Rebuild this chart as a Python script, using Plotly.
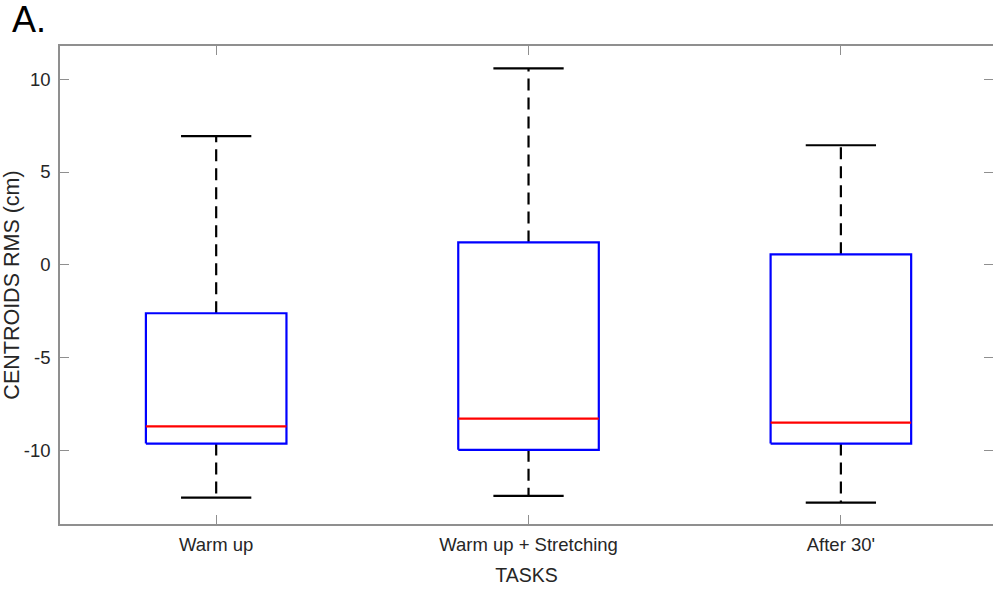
import plotly.graph_objects as go

# Box-plot summary statistics per task (cm)
tasks = ["Warm up", "Warm up + Stretching", "After 30'"]
lower_whisker = [-12.52, -12.43, -12.79]
q1 = [-9.61, -9.95, -9.61]
median = [-8.69, -8.27, -8.49]
q3 = [-2.60, 1.21, 0.57]
upper_whisker = [6.93, 10.58, 6.44]

y_ticks = [-10, -5, 0, 5, 10]

BOX_HALF = 0.225
CAP_HALF = 0.1125
AXIS_GREY = "#8f8f8f"
TEXT = "#262626"
FONT = "Liberation Sans, Arial, sans-serif"

positions = list(range(1, len(tasks) + 1))

box_x, box_y = [], []
med_x, med_y = [], []
wh_x, wh_y = [], []
cap_x, cap_y = [], []
for p, lo, a, m, b, hi in zip(positions, lower_whisker, q1, median, q3, upper_whisker):
    box_x += [p - BOX_HALF, p + BOX_HALF, p + BOX_HALF, p - BOX_HALF, p - BOX_HALF, None]
    box_y += [a, a, b, b, a, None]
    med_x += [p - BOX_HALF, p + BOX_HALF, None]
    med_y += [m, m, None]
    wh_x += [p, p, None, p, p, None]
    wh_y += [b, hi, None, a, lo, None]
    cap_x += [p - CAP_HALF, p + CAP_HALF, None, p - CAP_HALF, p + CAP_HALF, None]
    cap_y += [hi, hi, None, lo, lo, None]

fig = go.Figure()
fig.add_trace(go.Scatter(x=wh_x, y=wh_y, mode="lines",
                         line=dict(color="black", width=2.2, dash="12px,7px"),
                         hoverinfo="skip"))
fig.add_trace(go.Scatter(x=cap_x, y=cap_y, mode="lines",
                         line=dict(color="black", width=2.2), hoverinfo="skip"))
fig.add_trace(go.Scatter(x=box_x, y=box_y, mode="lines",
                         line=dict(color="#0000ff", width=2.2), hoverinfo="skip"))
fig.add_trace(go.Scatter(x=med_x, y=med_y, mode="lines",
                         line=dict(color="#ff0000", width=2.2), hoverinfo="skip"))
# invisible trace carrying the right-hand y axis ticks
fig.add_trace(go.Scatter(x=[None], y=[None], yaxis="y2", hoverinfo="skip"))

y_range = [-13.94, 11.78]

fig.update_layout(
    width=993, height=592,
    margin=dict(l=60, r=0, t=46, b=68),
    plot_bgcolor="white", paper_bgcolor="white",
    showlegend=False,
    font=dict(family=FONT, color=TEXT, size=18),
    xaxis=dict(
        range=[0.5, 3.487],
        tickmode="array", tickvals=positions, ticktext=tasks,
        ticks="inside", ticklen=9, tickcolor=AXIS_GREY, tickwidth=1,
        showline=True, linecolor=AXIS_GREY, linewidth=1.5, mirror="ticks",
        showgrid=False, zeroline=False,
        tickfont=dict(size=18.5, color=TEXT),
        ticklabelstandoff=3,
        title=dict(text="TASKS", font=dict(size=19.5, color=TEXT), standoff=14),
    ),
    yaxis=dict(
        range=y_range,
        tickmode="array", tickvals=y_ticks, ticktext=[str(v) for v in y_ticks],
        ticks="inside", ticklen=9, tickcolor=AXIS_GREY, tickwidth=1,
        showline=True, linecolor=AXIS_GREY, linewidth=1.5,
        showgrid=False, zeroline=False,
        tickfont=dict(size=18.5, color=TEXT),
        ticklabelstandoff=4,
        title=dict(text="CENTROIDS RMS (cm)", font=dict(size=21.5, color=TEXT), standoff=6),
    ),
    yaxis2=dict(
        overlaying="y", side="right", range=y_range,
        tickmode="array", tickvals=y_ticks,
        ticks="inside", ticklen=9, tickcolor=AXIS_GREY, tickwidth=1,
        showticklabels=False, showline=False, showgrid=False, zeroline=False,
    ),
    annotations=[dict(
        text="A.", xref="paper", yref="paper",
        x=-60 / 933, y=1 + (46 - 20) / 478, xshift=11, yshift=0,
        xanchor="left", yanchor="middle", borderpad=0,
        showarrow=False, font=dict(family=FONT, size=36, color="black"),
    )],
)

fig.write_html("out.html")
